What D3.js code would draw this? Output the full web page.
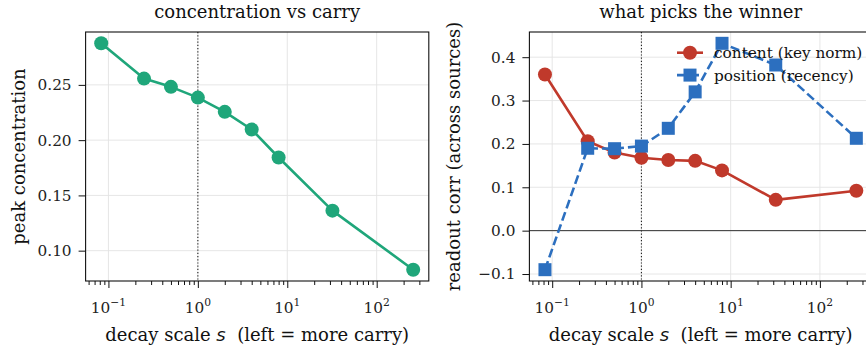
<!DOCTYPE html>
<html>
<head>
<meta charset="utf-8">
<script src="https://cdn.jsdelivr.net/npm/d3@7"></script>
<style>
  body { margin: 0; background: #fff; }
  svg { display: block; }
</style>
</head>
<body>
<svg id="chart" width="866" height="349" font-family="DejaVu Serif, serif"></svg>
<script>
// values
const decayScale = [0.083, 0.25, 0.5, 1, 2, 4, 8, 32, 256];
const peakConc = [0.2876, 0.2557, 0.2482, 0.2385, 0.2256, 0.2096, 0.1843, 0.1362, 0.0828];
const contentCorr = [0.360, 0.206, 0.180, 0.168, 0.163, 0.161, 0.139, 0.071, 0.092];
const positionCorr = [-0.090, 0.190, 0.189, 0.195, 0.236, 0.320, 0.432, 0.382, 0.213];

const xMajor = [-1, 0, 1, 2];          // exponents of 10
const leftYTicks = [0.10, 0.15, 0.20, 0.25];
const rightYTicks = [-0.1, 0.0, 0.1, 0.2, 0.3, 0.4];
const seriesNames = ["content (key norm)", "position (recency)"];

const green = "#1fa67a", red = "#c0392b", blue = "#2c6fbf";
const gridColor = "#e3e3e3";
const FONT = "DejaVu Serif, serif";

const svg = d3.select("#chart");

// x domain: data extent padded 5% in log space (matplotlib style)
const lx = d3.extent(decayScale, d => Math.log10(d));
const lpad = (lx[1] - lx[0]) * 0.05;
const xDomain = [Math.pow(10, lx[0] - lpad), Math.pow(10, lx[1] + lpad)];

function padded(vals) {
  const e = d3.extent(vals);
  const p = (e[1] - e[0]) * 0.05;
  return [e[0] - p, e[1] + p];
}

const minorTicks = [];
for (let e = -2; e <= 2; e++) {
  for (let m = 2; m <= 9; m++) {
    const v = m * Math.pow(10, e);
    if (v > xDomain[0] && v < xDomain[1]) minorTicks.push(v);
  }
}

function drawPanel(opt) {
  const x = d3.scaleLog().domain(xDomain).range([opt.left, opt.right]);
  const y = d3.scaleLinear().domain(opt.yDomain).range([opt.bottom, opt.top]);
  const g = svg.append("g");

  // grid
  g.selectAll(".gx").data(xMajor).enter().append("line")
    .attr("x1", d => x(Math.pow(10, d))).attr("x2", d => x(Math.pow(10, d)))
    .attr("y1", opt.top).attr("y2", opt.bottom)
    .attr("stroke", gridColor).attr("stroke-width", 0.9);
  g.selectAll(".gy").data(opt.yTicks).enter().append("line")
    .attr("x1", opt.left).attr("x2", opt.right)
    .attr("y1", d => y(d)).attr("y2", d => y(d))
    .attr("stroke", gridColor).attr("stroke-width", 0.9);

  if (opt.zeroLine) {
    g.append("line")
      .attr("x1", opt.left).attr("x2", opt.right)
      .attr("y1", y(0)).attr("y2", y(0))
      .attr("stroke", "#333").attr("stroke-width", 1);
  }

  // reference line at s = 1
  g.append("line")
    .attr("x1", x(1)).attr("x2", x(1))
    .attr("y1", opt.top).attr("y2", opt.bottom)
    .attr("stroke", "#222").attr("stroke-width", 1.1)
    .attr("stroke-dasharray", "1.2,2");

  const line = d3.line().x(d => x(d[0])).y(d => y(d[1]));

  opt.series.forEach(s => {
    const pts = decayScale.map((v, i) => [v, s.values[i]]);
    g.append("path").datum(pts)
      .attr("fill", "none").attr("stroke", s.color).attr("stroke-width", 2.6)
      .attr("stroke-dasharray", s.dash || null)
      .attr("stroke-linejoin", "round")
      .attr("d", line);
    if (s.marker === "square") {
      g.selectAll(null).data(pts).enter().append("rect")
        .attr("x", d => x(d[0]) - 6.5).attr("y", d => y(d[1]) - 6.5)
        .attr("width", 13).attr("height", 13)
        .attr("fill", s.color);
    } else {
      g.selectAll(null).data(pts).enter().append("circle")
        .attr("cx", d => x(d[0])).attr("cy", d => y(d[1]))
        .attr("r", 7).attr("fill", s.color);
    }
  });

  // spines
  g.append("rect")
    .attr("x", opt.left).attr("y", opt.top)
    .attr("width", opt.right - opt.left).attr("height", opt.bottom - opt.top)
    .attr("fill", "none").attr("stroke", "#111").attr("stroke-width", 1.1);

  // x axis ticks
  const xa = g.append("g").attr("transform", `translate(0,${opt.bottom})`);
  xa.call(d3.axisBottom(x).tickValues(xMajor.map(e => Math.pow(10, e))).tickSize(7).tickFormat(""));
  const xm = g.append("g").attr("transform", `translate(0,${opt.bottom})`);
  xm.call(d3.axisBottom(x).tickValues(minorTicks).tickSize(4).tickFormat(""));
  [xa, xm].forEach(a => {
    a.select(".domain").remove();
    a.selectAll("line").attr("stroke", "#111").attr("stroke-width", 1);
  });

  xMajor.forEach(e => {
    const t = g.append("text")
      .attr("x", x(Math.pow(10, e))).attr("y", opt.bottom + 32)
      .attr("text-anchor", "middle").attr("font-size", 15.3).attr("fill", "#222");
    t.append("tspan").text("10");
    t.append("tspan").attr("dy", -7).attr("font-size", 10.7)
      .text(e < 0 ? "\u2212" + (-e) : String(e));
  });

  // y axis
  const ya = g.append("g").attr("transform", `translate(${opt.left},0)`);
  ya.call(d3.axisLeft(y).tickValues(opt.yTicks).tickSize(7).tickPadding(7)
    .tickFormat(d => d3.format(opt.yFmt)(d).replace("-", "\u2212")));
  ya.select(".domain").remove();
  ya.selectAll("line").attr("stroke", "#111");
  ya.attr("font-family", FONT);
  ya.selectAll("text").attr("font-family", FONT)
    .attr("font-size", 15.3).attr("fill", "#222");

  // title & labels
  g.append("text")
    .attr("x", (opt.left + opt.right) / 2).attr("y", 17.5)
    .attr("text-anchor", "middle").attr("font-size", 18).attr("fill", "#111")
    .text(opt.title);

  const xl = g.append("text")
    .attr("x", (opt.left + opt.right) / 2).attr("y", 340.5)
    .attr("text-anchor", "middle").attr("font-size", 18).attr("fill", "#111");
  xl.append("tspan").text("decay scale ");
  xl.append("tspan").attr("font-family", "DejaVu Sans, sans-serif").attr("font-style", "italic").text("s");
  xl.append("tspan").text("\u00a0 (left = more carry)");

  g.append("text")
    .attr("transform", `translate(${opt.ylabelX},${(opt.top + opt.bottom) / 2}) rotate(-90)`)
    .attr("text-anchor", "middle").attr("font-size", 18).attr("fill", "#111")
    .text(opt.ylabel);

  return { x, y, g };
}

drawPanel({
  left: 85.6, right: 428.8, top: 32, bottom: 281,
  yDomain: padded(peakConc), yTicks: leftYTicks, yFmt: ".2f",
  title: "concentration vs carry", ylabel: "peak concentration", ylabelX: 25,
  series: [{ values: peakConc, color: green, marker: "circle" }]
});

drawPanel({
  left: 529.4, right: 871.9, top: 32, bottom: 281,
  yDomain: padded(contentCorr.concat(positionCorr)), yTicks: rightYTicks, yFmt: ".1f",
  title: "what picks the winner", ylabel: "readout corr (across sources)", ylabelX: 460,
  zeroLine: true,
  series: [
    { values: contentCorr, color: red, marker: "circle" },
    { values: positionCorr, color: blue, marker: "square", dash: "9,4" }
  ]
});

// legend (no frame)
const leg = svg.append("g");
const legItems = [
  { name: seriesNames[0], color: red, marker: "circle" },
  { name: seriesNames[1], color: blue, marker: "square", dash: "9,4" }
];
legItems.forEach((it, i) => {
  const yy = 52.7 + i * 22.4;
  leg.append("line").attr("x1", 677).attr("x2", 703).attr("y1", yy).attr("y2", yy)
    .attr("stroke", it.color).attr("stroke-width", 2.6)
    .attr("stroke-dasharray", it.dash || null);
  if (it.marker === "square") {
    leg.append("rect").attr("x", 690 - 6.5).attr("y", yy - 6.5)
      .attr("width", 13).attr("height", 13).attr("fill", it.color);
  } else {
    leg.append("circle").attr("cx", 690).attr("cy", yy).attr("r", 7).attr("fill", it.color);
  }
  leg.append("text").attr("x", 714).attr("y", yy + 5.5)
    .attr("font-size", 15.3).attr("fill", "#111").text(it.name);
});
</script>
</body>
</html>
